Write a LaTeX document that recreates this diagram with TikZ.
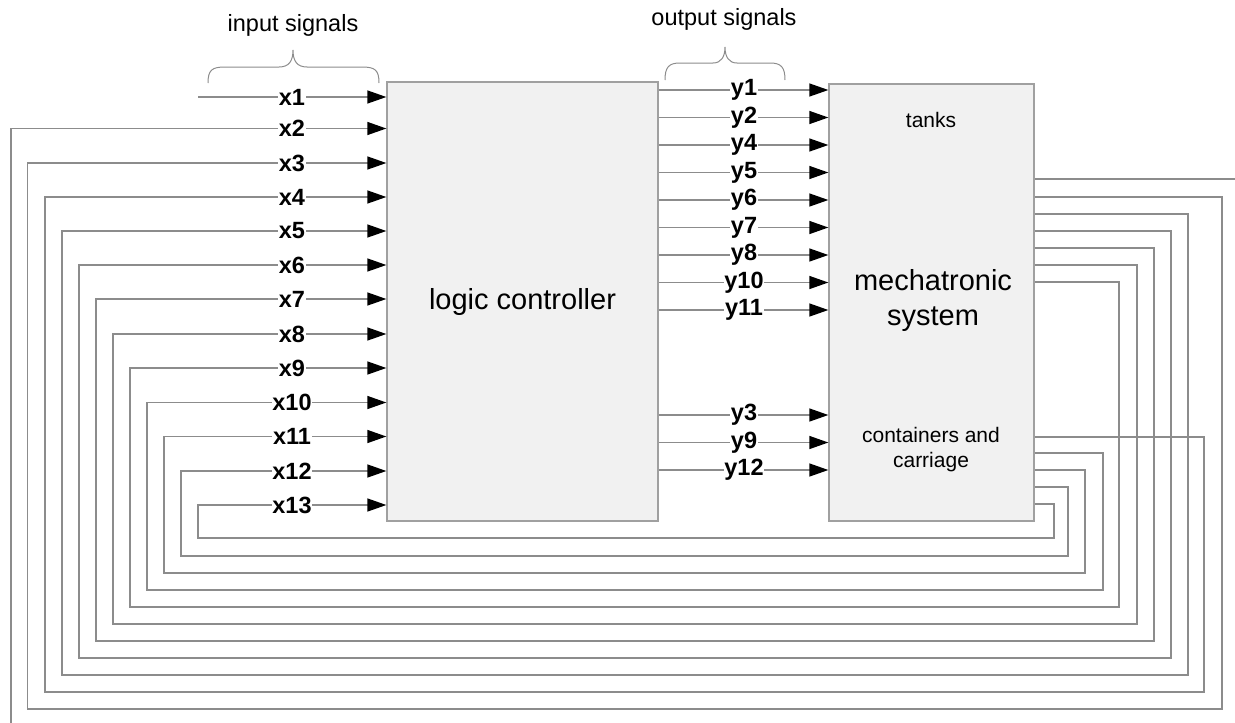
\documentclass[tikz,border=0pt]{standalone}
\usepackage{fontspec}
\setmainfont{Liberation Sans}
\usetikzlibrary{arrows.meta}
\definecolor{wirec}{HTML}{8C8C8C}
\definecolor{boxfill}{HTML}{F1F1F1}
\definecolor{boxline}{HTML}{A0A0A0}
\begin{document}
\begin{tikzpicture}[x=1pt,y=-1pt,
  wire/.style={draw=wirec, line width=1.3pt},
  sig/.style={wire, -{Triangle[length=19pt,width=13pt,color=black]}},
  lbl/.style={fill=white, inner sep=0.8pt, font=\fontsize{23.5}{25}\selectfont\bfseries},
  block/.style={draw=boxline, fill=boxfill, line width=1.3pt, inner sep=0pt},
  txt/.style={align=center, inner sep=0pt},
]
\useasboundingbox (0,0) rectangle (1235,723);

% blocks
\node[block, minimum width=271pt, minimum height=439pt,
      font=\fontsize{29}{34}\selectfont] (lc) at (522.5,301.5) {logic controller};
\node[block, minimum width=205pt, minimum height=437pt] (ms) at (931.5,302.5) {};
\node[txt, font=\fontsize{21}{25}\selectfont] (tanks) at (931,120) {tanks};
\node[txt, font=\fontsize{29}{35}\selectfont] (mech) at (933,300) {mechatronic\\system};
\node[txt, font=\fontsize{21}{25}\selectfont] (cont) at (931,450) {containers and\\carriage};

% top texts and braces
\node[txt, font=\fontsize{23.5}{26}\selectfont] (insig) at (293,25) {input signals};
\node[txt, font=\fontsize{23.5}{26}\selectfont] (outsig) at (724,19) {output signals};
\draw[wire, line width=1pt] (208,83) .. controls (208,70) and (212,67) .. (225,67) -- (279,67)
  .. controls (289,67) and (293,61) .. (293,50) .. controls (293,61) and (297,67) .. (307,67)
  -- (362,67) .. controls (375,67) and (379,70) .. (379,83);
\draw[wire, line width=1pt] (665,80) .. controls (665,67) and (669,63) .. (680,63) -- (713,63)
  .. controls (721,63) and (725,57) .. (725,47) .. controls (725,57) and (729,63) .. (737,63)
  -- (770,63) .. controls (781,63) and (785,67) .. (785,80);

% input x1
\coordinate (x1s) at (198,97);
\draw[sig] (x1s) -- (lc.west |- x1s);
\node[lbl] (x1) at (292,97) {x1};

% input x2 (feedback leaving the picture)
\coordinate (x2s) at (11,723);
\coordinate (x2e) at (1235,179);
\draw[sig] (x2s) |- (lc.west |- 0,128.5);
\draw[wire] (ms.east |- x2e) -- (x2e);
\node[lbl] (x2) at (292,128.5) {x2};

% feedback inputs x3..x13
\foreach \n/\y/\lx/\by/\rx/\ry in {
  3/163/27.5/709/1222/197,
  4/197/45/692/1204/437,
  5/231/62/675/1188/214,
  6/265/79/658/1171/231,
  7/299/96/641/1154/248,
  8/334/113/624/1137/265,
  9/368/130/607/1119/282,
  10/402.5/147/590/1103/453,
  11/436.5/164/573/1085/470,
  12/471/181/556/1068/487,
  13/505/198/538/1054/504}{
  \draw[sig] (ms.east |- 0,\ry) -| (\rx,\by) -| (\lx,\y) -- (lc.west |- 0,\y);
  \node[lbl] (x\n) at (292,\y) {x\n};
}

% outputs
\foreach \n/\y in {1/90,2/117.5,4/145,5/172.5,6/200,7/227.5,8/255,10/282.5,11/310,3/415,9/442.5,12/470}{
  \draw[sig] (lc.east |- 0,\y) -- (ms.west |- 0,\y);
  \node[lbl] (y\n) at (744,\y) {y\n};
}
\end{tikzpicture}
\end{document}
